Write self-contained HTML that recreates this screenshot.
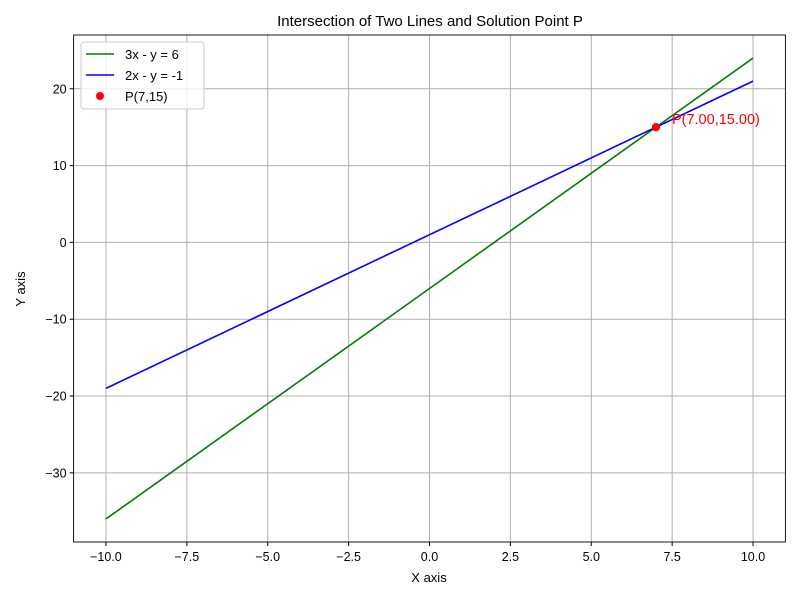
<!DOCTYPE html>
<html><head><meta charset="utf-8"><style>
body{margin:0;background:#fff;}
text{font-family:"Liberation Sans",sans-serif;}
</style></head><body>
<svg id="chart" width="800" height="600" xmlns="http://www.w3.org/2000/svg">
<rect width="800" height="600" fill="#fff"/>
<text x="430" y="26" font-size="15" text-anchor="middle">Intersection of Two Lines and Solution Point P</text>
<g id="grid"></g>
<g id="marks"></g>
<rect x="73.6" y="35" width="711.8" height="507" fill="none" stroke="#000" stroke-width="0.9"/>
<g id="ticks"></g>
<text x="429" y="582" font-size="13" text-anchor="middle">X axis</text>
<text x="25" y="289" font-size="13" text-anchor="middle" transform="rotate(-90 25 289)">Y axis</text>
<g>
<rect x="81" y="42" width="123" height="67" rx="3" fill="#fff" fill-opacity="0.8" stroke="#ccc"/>
<line x1="86" y1="54" x2="114" y2="54" stroke="green" stroke-width="1.5"/>
<text x="125" y="59" font-size="13">3x - y = 6</text>
<line x1="86" y1="75" x2="114" y2="75" stroke="blue" stroke-width="1.5"/>
<text x="125" y="80" font-size="13">2x - y = -1</text>
<circle cx="100" cy="96" r="4" fill="red"/>
<text x="125" y="101" font-size="13">P(7,15)</text>
</g>
</svg>
<script>
const xEnds = [-10, 10];
const greenY = [-36, 24];
const blueY = [-19, 21];
const pointP = [7, 15];
const pLabel = "P(7.00,15.00)";
const xTicks = [-10, -7.5, -5, -2.5, 0, 2.5, 5, 7.5, 10];
const xTickLabels = ["\u221210.0","\u22127.5","\u22125.0","\u22122.5","0.0","2.5","5.0","7.5","10.0"];
const yTicks = [-30, -20, -10, 0, 10, 20];
const yTickLabels = ["\u221230","\u221220","\u221210","0","10","20"];

const L=73.6,R=785.4,T=35,B=542,xmin=-11,xmax=11,ymin=-39,ymax=27;
const sx=v=>L+(v-xmin)/(xmax-xmin)*(R-L);
const sy=v=>B-(v-ymin)/(ymax-ymin)*(B-T);
const NS="http://www.w3.org/2000/svg";
function mk(tag,attrs,parent){const e=document.createElementNS(NS,tag);for(const k in attrs)e.setAttribute(k,attrs[k]);parent.appendChild(e);return e;}
const grid=document.getElementById('grid'),ticks=document.getElementById('ticks'),marks=document.getElementById('marks');
xTicks.forEach((v,i)=>{
  const g=mk('line',{x1:sx(v),x2:sx(v),y1:T,y2:B,stroke:'#b0b0b0','stroke-width':1},grid);
  
  
  mk('line',{x1:sx(v),x2:sx(v),y1:B,y2:B+4,stroke:'#000'},ticks);
  const t=mk('text',{x:sx(v),y:B+19,'font-size':12.5,'text-anchor':'middle'},ticks);
  t.textContent=xTickLabels[i];
  
  
});
yTicks.forEach((v,i)=>{
  const g=mk('line',{x1:L,x2:R,y1:sy(v),y2:sy(v),stroke:'#b0b0b0','stroke-width':1},grid);
  
  
  mk('line',{x1:L-4,x2:L,y1:sy(v),y2:sy(v),stroke:'#000'},ticks);
  const t=mk('text',{x:L-7,y:sy(v)+4.5,'font-size':12.5,'text-anchor':'end'},ticks);
  t.textContent=yTickLabels[i];
  
  
});
const g1=mk('line',{x1:sx(xEnds[0]),y1:sy(greenY[0]),x2:sx(xEnds[1]),y2:sy(greenY[1]),stroke:'green','stroke-width':1.6},marks);


const b1=mk('line',{x1:sx(xEnds[0]),y1:sy(blueY[0]),x2:sx(xEnds[1]),y2:sy(blueY[1]),stroke:'blue','stroke-width':1.6},marks);


const p=mk('circle',{cx:sx(pointP[0]),cy:sy(pointP[1]),r:4.2,fill:'red'},marks);


const pl=mk('text',{x:sx(pointP[0])+16,y:sy(pointP[1])-3,'font-size':14.5,fill:'red'},marks);
pl.textContent=pLabel;


</script>
</body></html>
